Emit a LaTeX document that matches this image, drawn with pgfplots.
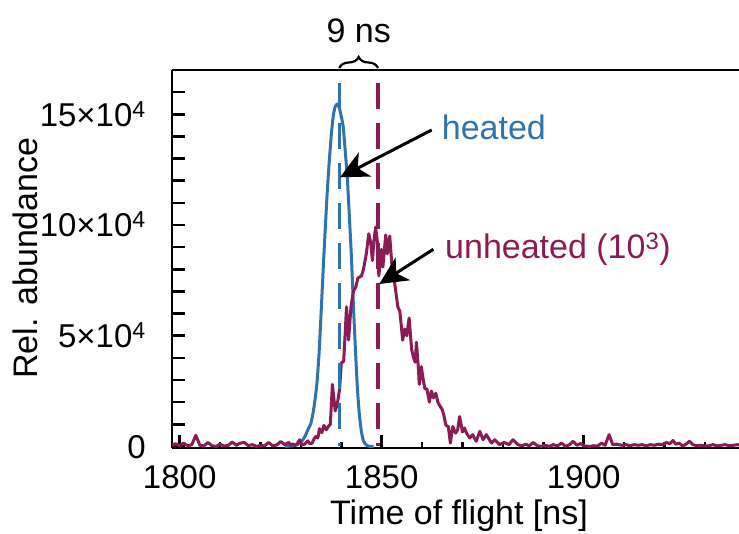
\documentclass[border=0pt]{standalone}
\usepackage{fontspec}
\setmainfont{Liberation Sans}
\usepackage{pgfplots}
\pgfplotsset{compat=1.18}
\usetikzlibrary{arrows.meta,decorations.pathreplacing}
\definecolor{cblue}{RGB}{46,115,176}
\definecolor{cmaroon}{RGB}{140,26,84}

\pgfplotstableread{
x y
1826 0
1827 100
1828 300
1829 700
1830 1800
1830.5 3000
1831 4500
1831.5 6500
1832 8500
1832.5 10500
1833 15000
1833.5 21000
1834 29000
1834.5 42000
1835 60000
1835.5 79000
1836 97000
1836.5 114000
1837 128000
1837.5 140000
1838 149000
1838.5 153500
1839 154500
1839.5 153000
1840 149000
1840.5 144000
1841 133000
1841.5 121000
1842 104000
1842.5 86000
1843 64000
1843.5 44000
1844 26000
1844.5 14000
1845 6500
1845.5 2500
1846 1000
1846.5 300
1847 0
1848 0
}\heated

\pgfplotstableread{
x y
1797 500
1798 500
1799 1200
1800 300
1801 1500
1802 200
1803 800
1804 5000
1805 500
1806 200
1807 1800
1808 300
1809 0
1810 1000
1811 200
1812 400
1813 2000
1814 500
1815 1500
1816 1800
1817 300
1818 800
1819 0
1820 500
1821 200
1822 1800
1823 300
1824 600
1825 2200
1826 800
1827 1800
1827.5 500
1828 1200
1828.5 400
1829 1000
1829.7 3000
1830.3 800
1830.9 1000
1831.7 2500
1832.2 1200
1832.8 1500
1833.3 3500
1833.7 4500
1834.2 3800
1834.6 8000
1835.2 6200
1835.7 9500
1836.3 7500
1836.8 9000
1837.3 10000
1837.8 28000
1838.5 16000
1839.0 19000
1839.6 26000
1840.0 37600
1840.6 38500
1841.3 63000
1841.8 48000
1842.4 63000
1843.0 70000
1843.6 72000
1844.1 76000
1845.0 77000
1845.5 80000
1846.2 87000
1846.8 96000
1847.3 92000
1847.7 84000
1848.1 93000
1848.5 99000
1848.9 93000
1849.3 77000
1849.9 89000
1850.3 81000
1851.0 95500
1851.4 87000
1852.0 95000
1852.6 80000
1853.2 74000
1854.0 63000
1854.5 61000
1855.2 48000
1855.7 53000
1856.2 50000
1856.8 58000
1857.4 44000
1857.9 40000
1858.3 38000
1858.6 47000
1859.1 35000
1859.3 28000
1859.8 36000
1860.3 30000
1860.7 26000
1861.2 26000
1861.8 20000
1862.3 25000
1862.8 22000
1863.4 24000
1863.9 20000
1864.5 18000
1865.0 16600
1865.4 14000
1865.9 9500
1866.5 9000
1867.0 1500
1867.6 9000
1868.3 6000
1868.8 7500
1869.3 13500
1870.0 6500
1870.5 8300
1871.0 6000
1871.8 3800
1872.5 5300
1873.4 2300
1874.3 6800
1875.1 3000
1875.9 5300
1877.2 1500
1878.0 3000
1879.2 800
1880.3 1800
1881.5 800
1882.5 3000
1883.7 800
1884.7 300
1885.7 1000
1886.5 200
1887.5 1800
1888.5 300
1889.5 0
1890.5 500
1891.5 0
1892.5 800
1893.5 200
1894.5 1500
1895.5 0
1896.5 800
1897.4 2300
1898.3 500
1899.2 1300
1900.2 200
1901.5 0
1902.5 300
1903.5 200
1904.4 1500
1905.3 500
1906.3 5300
1907.2 800
1908.2 1000
1909.5 500
1910.5 800
1911.5 300
1912.5 800
1913.5 500
1914.5 800
1915.5 200
1916.5 800
1917.5 500
1918.5 1000
1919.5 800
1920.5 1800
1921.3 1200
1922.1 2700
1922.8 1000
1923.6 1500
1924.5 200
1925.3 1000
1926.2 2300
1927.0 800
1928.0 300
1929.0 500
1930.0 200
1931.0 300
1932.0 800
1933.0 200
1934.0 500
1935.0 800
1936.0 300
1937.0 500
1938.0 800
1939.0 500
}\unheated

\begin{document}
\fontsize{34}{40}\selectfont
\begin{tikzpicture}[font=\fontsize{34}{40}\selectfont]
\begin{axis}[
  at={(172pt,86pt)}, anchor=south west,
  scale only axis, width=567pt, height=378pt,
  xmin=1798.1, xmax=1938.45, ymin=-720, ymax=170000,
  axis x line*=box, axis y line*=left,
  axis line style={line width=2.8pt, black},
  tick align=inside,
  xtick pos=bottom, ytick pos=left,
  xtick={1800,1850,1900}, xticklabels={1800,1850,1900},
  minor xtick={1810,1820,1830,1840,1860,1870,1880,1890,1910,1920,1930},
  ytick={0,10000,20000,30000,40000,50000,60000,70000,80000,90000,100000,110000,120000,130000,140000,150000,160000},
  yticklabels={0,,,,,5×10\textsuperscript{4},,,,,10×10\textsuperscript{4},,,,,15×10\textsuperscript{4},},
  scaled y ticks=false,
  major tick length=12.5pt, minor tick length=5.5pt,
  tick style={line width=2.5pt, black},
  tick label style={font=\fontsize{33}{40}\selectfont},
  xticklabel style={anchor=north, inner sep=0pt, yshift=-17pt},
  yticklabel style={anchor=base east, inner sep=0pt, xshift=-26pt, yshift=-11.8pt},
  clip mode=individual,
]
\addplot[cblue, line width=3pt, smooth, tension=0.4] table[x=x,y=y] {\heated};
\addplot[cmaroon, line width=3pt, line join=round] table[x=x,y=y] {\unheated};
\draw[cblue, line width=3.2pt, dash pattern=on 26pt off 14pt] (axis cs:1839.5,164000) -- (axis cs:1839.5,0);
\draw[cmaroon, line width=3.2pt, dash pattern=on 26pt off 14pt] (axis cs:1849.1,164000) -- (axis cs:1849.1,0);
\draw[line width=2.2pt, decorate, decoration={brace, amplitude=11pt, raise=2pt}] (axis cs:1839.5,170000) -- (axis cs:1849.1,170000);
\end{axis}
\node[anchor=base] at (358.7pt,491pt) {9 ns};
\node[anchor=base west, inner sep=0pt, text=cblue] at (441.7pt,394.7pt) {heated};
\node[anchor=base west, inner sep=0pt, text=cmaroon] at (445pt,275.7pt) {unheated (10\textsuperscript{3})};
\draw[line width=3pt, -{Stealth[length=28pt, width=27pt, inset=8pt]}] (431.7pt,404pt) -- (340pt,356.7pt);
\draw[line width=3pt, -{Stealth[length=28pt, width=27pt, inset=8pt]}] (433.3pt,284.7pt) -- (379.3pt,250pt);
\node[anchor=base] at (459pt,9pt) {Time of flight [ns]};
\node[anchor=base, rotate=90] at (37pt,276pt) {Rel. abundance};
\pgfresetboundingbox
\path[use as bounding box] (0,0) rectangle (739pt,534pt);
\end{tikzpicture}
\end{document}
